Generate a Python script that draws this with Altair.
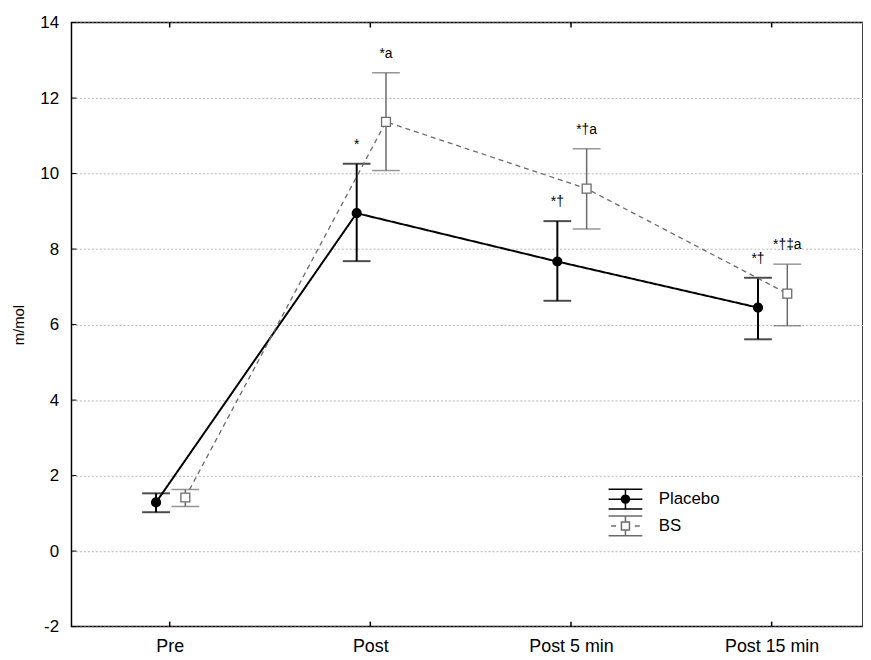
import altair as alt
import pandas as pd

categories = ["Pre", "Post", "Post 5 min", "Post 15 min"]
placebo_mean = [1.29, 8.95, 7.67, 6.45]
placebo_upper = [1.53, 10.26, 8.74, 7.24]
placebo_lower = [1.03, 7.68, 6.63, 5.61]
bs_mean = [1.42, 11.37, 9.60, 6.82]
bs_upper = [1.63, 12.67, 10.66, 7.60]
bs_lower = [1.18, 10.08, 8.53, 5.97]
placebo_marks = ["", "*", "*\u2020", "*\u2020"]
bs_marks = ["", "*a", "*\u2020a", "*\u2020\u2021a"]
y_ticks = [-2, 0, 2, 4, 6, 8, 10, 12, 14]
series_names = ["Placebo", "BS"]

offsets = {"Placebo": -0.068, "BS": 0.078}


def frame(name, m, u, lo, mk):
    return pd.DataFrame({
        "series": name, "cat": categories,
        "x": [i + offsets[name] for i in range(len(categories))],
        "mean": m, "upper": u, "lower": lo, "mark": mk,
    })


pl_df = frame("Placebo", placebo_mean, placebo_upper, placebo_lower, placebo_marks)
bs_df = frame("BS", bs_mean, bs_upper, bs_lower, bs_marks)
cat_df = pd.DataFrame({"idx": list(range(len(categories))), "cat": categories})
ytick_df = pd.DataFrame({"v": y_ticks})

W, H = 798, 609
xscale = alt.Scale(domain=[-0.4894, 3.4553], nice=False, zero=False)
yscale = alt.Scale(domain=[-2, 14], nice=False, zero=False)
FONT = "Liberation Sans"
label_expr = "['Pre','Post','Post 5 min','Post 15 min'][datum.value]"

x_enc = alt.X("x:Q", scale=xscale,
              axis=alt.Axis(values=[0, 1, 2, 3], labelExpr=label_expr, title=None,
                            grid=False, ticks=False, domain=False, labelPadding=11,
                            labelFontSize=18, labelColor="black", labelFont=FONT))
y_enc = alt.Y("mean:Q", scale=yscale,
              axis=alt.Axis(values=y_ticks, labelExpr="'' + datum.value", title="m/mol",
                            grid=True, gridDash=[2, 2], gridColor="#b4b4b4", gridWidth=1,
                            ticks=False, domain=False, labelPadding=13, labelFontSize=17,
                            labelColor="black", labelFont=FONT, titleFont=FONT,
                            titleFontSize=15, titleFontWeight="normal", titleColor="black",
                            titlePadding=13))


def series_layers(df, color, width, dash, shape, fill, bar_w):
    b = alt.Chart(df)
    line = b.mark_line(color=color, strokeWidth=width, strokeDash=dash).encode(x=x_enc, y=y_enc)
    rule = b.mark_rule(color=color, strokeWidth=bar_w).encode(x="x:Q", y="lower:Q", y2="upper:Q")
    cu = b.mark_tick(orient="horizontal", size=28, thickness=bar_w, color=color).encode(
        x="x:Q", y="upper:Q")
    cl = b.mark_tick(orient="horizontal", size=28, thickness=bar_w, color=color).encode(
        x="x:Q", y="lower:Q")
    pt = b.mark_point(shape=shape, size=80, filled=False, fill=fill, stroke=color,
                      strokeWidth=1.3, opacity=1).encode(x="x:Q", y="mean:Q")
    tx = b.mark_text(fontSize=14, font=FONT, color="black", dy=-19, baseline="middle").encode(
        x="x:Q", y="upper:Q", text="mark:N")
    return [line, rule, cu, cl, pt, tx]


pl_layers = series_layers(pl_df, "black", 2, [1, 0], "circle", "black", 2)
bs_layers = series_layers(bs_df, "#6a6a6a", 1.3, [5, 4], "square", "white", 1.5)

placebo_glyph = ("M-1.35,-0.79H1.35M-1.35,0.79H1.35M0,-0.79V0.79M-1.35,0H1.35"
                 "M-0.32,0A0.32,0.32,0,1,1,0.32,0A0.32,0.32,0,1,1,-0.32,0Z")
bs_glyph = ("M-1.35,-0.79H1.35M-1.35,0.79H1.35M0,-0.79V-0.32M0,0.32V0.79"
            "M-1.15,0H-0.75M0.75,0H1.15M-0.32,-0.32H0.32V0.32H-0.32Z")

legend_df = pd.concat([pl_df, bs_df])
legend_layer = alt.Chart(legend_df).transform_filter("false").mark_point(
    size=635, strokeWidth=1.5, opacity=1, filled=False).encode(
    shape=alt.Shape("series:N",
                    scale=alt.Scale(domain=series_names, range=[placebo_glyph, bs_glyph]),
                    legend=alt.Legend(title=None, orient="none", legendX=545, legendY=467,
                                      labelFontSize=17, labelFont=FONT, labelColor="black",
                                      symbolSize=635, symbolStrokeWidth=1.5, rowPadding=0,
                                      labelOffset=20, padding=0)),
    fill=alt.Fill("series:N", scale=alt.Scale(domain=series_names, range=["black", "white"])),
    stroke=alt.Stroke("series:N", scale=alt.Scale(domain=series_names,
                                                  range=["black", "#6a6a6a"])),
)

ytk = alt.Chart(ytick_df).mark_rule(color="black", strokeWidth=1).encode(
    y=alt.Y("v:Q", scale=yscale), x=alt.value(0), x2=alt.value(5))
xtk_top = alt.Chart(cat_df).mark_rule(color="black", strokeWidth=1.5).encode(
    x=alt.X("idx:Q", scale=xscale), y=alt.value(0), y2=alt.value(5))
xtk_bot = alt.Chart(cat_df).mark_rule(color="black", strokeWidth=1.5).encode(
    x=alt.X("idx:Q", scale=xscale), y=alt.value(H - 5), y2=alt.value(H))

chart = alt.layer(*pl_layers, *bs_layers, legend_layer, ytk, xtk_top, xtk_bot).properties(
    width=W, height=H,
    autosize=alt.AutoSizeParams(type="none"),
    padding={"left": 64, "top": 12, "right": 0, "bottom": 30},
    background="white",
).configure_view(stroke="black", strokeWidth=1.5)

chart.save("out.html", embed_options={"renderer": "svg", "actions": False})
